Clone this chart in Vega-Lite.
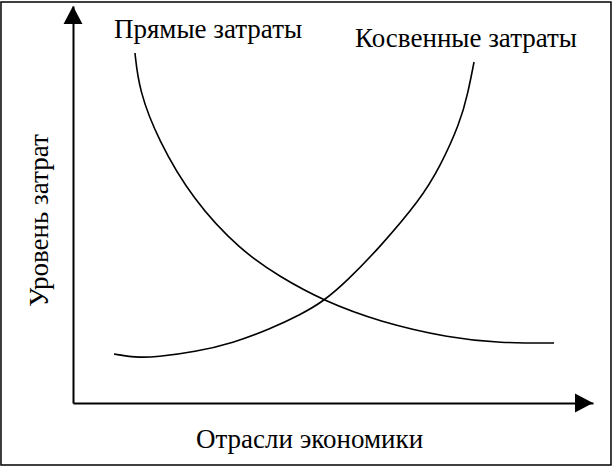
{
  "$schema": "https://vega.github.io/schema/vega-lite/v6.json",
  "width": 520,
  "height": 397,
  "padding": {"left": 73, "top": 6, "right": 21, "bottom": 66},
  "autosize": "none",
  "background": "white",
  "config": {
    "view": {"stroke": null},
    "font": "Liberation Serif",
    "axis": {"titleFont": "Liberation Serif", "titleFontWeight": "normal", "titleColor": "black"}
  },
  "datasets": {
    "curves": [
      {"series": "Прямые затраты", "x": 11.92, "y": 88.16},
      {"series": "Прямые затраты", "x": 12.69, "y": 78.84},
      {"series": "Прямые затраты", "x": 16.35, "y": 66.25},
      {"series": "Прямые затраты", "x": 23.08, "y": 51.13},
      {"series": "Прямые затраты", "x": 32.12, "y": 38.54},
      {"series": "Прямые затраты", "x": 39.81, "y": 31.74},
      {"series": "Прямые затраты", "x": 48.27, "y": 25.69},
      {"series": "Прямые затраты", "x": 59.04, "y": 20.4},
      {"series": "Прямые затраты", "x": 72.5, "y": 16.37},
      {"series": "Прямые затраты", "x": 82.12, "y": 15.11},
      {"series": "Прямые затраты", "x": 92.5, "y": 15.11},
      {"series": "Косвенные затраты", "x": 7.88, "y": 12.34},
      {"series": "Косвенные затраты", "x": 11.92, "y": 11.46},
      {"series": "Косвенные затраты", "x": 16.15, "y": 11.59},
      {"series": "Косвенные затраты", "x": 23.46, "y": 12.85},
      {"series": "Косвенные затраты", "x": 30.77, "y": 15.11},
      {"series": "Косвенные затраты", "x": 37.88, "y": 18.64},
      {"series": "Косвенные затраты", "x": 43.65, "y": 22.17},
      {"series": "Косвенные затраты", "x": 48.27, "y": 25.69},
      {"series": "Косвенные затраты", "x": 52.69, "y": 30.73},
      {"series": "Косвенные затраты", "x": 59.04, "y": 39.29},
      {"series": "Косвенные затраты", "x": 66.73, "y": 51.13},
      {"series": "Косвенные затраты", "x": 70.58, "y": 59.45},
      {"series": "Косвенные затраты", "x": 74.42, "y": 70.53},
      {"series": "Косвенные затраты", "x": 75.96, "y": 78.09},
      {"series": "Косвенные затраты", "x": 77.12, "y": 85.89}
    ],
    "labels": [
      {"label": "Прямые затраты", "x": 25.96, "y": 91.94},
      {"label": "Косвенные затраты", "x": 75.58, "y": 89.67}
    ],
    "arrows": [
      {"axis": "x", "x": 100, "y": 0},
      {"axis": "y", "x": 0, "y": 100}
    ],
    "frame": [
      {"x": -13.85, "x2": 103.46, "y": -15.62, "y2": 101.0}
    ]
  },
  "layer": [
    {
      "data": {"name": "curves"},
      "mark": {"type": "line", "interpolate": "basis", "color": "black", "strokeWidth": 1.6},
      "encoding": {
        "x": {
          "field": "x", "type": "quantitative",
          "scale": {"domain": [0, 100], "nice": false, "zero": false},
          "axis": {
            "title": "Отрасли экономики", "titleFontSize": 27,
            "domain": true, "domainColor": "black", "domainWidth": 2,
            "ticks": false, "labels": false, "grid": false,
            "titleX": 236, "titleY": 44, "titleAlign": "center", "titleBaseline": "alphabetic"
          }
        },
        "y": {
          "field": "y", "type": "quantitative",
          "scale": {"domain": [0, 100], "nice": false, "zero": false},
          "axis": {
            "title": "Уровень затрат", "titleFontSize": 27,
            "domain": true, "domainColor": "black", "domainWidth": 2,
            "ticks": false, "labels": false, "grid": false,
            "titleX": -26, "titleY": 214, "titleAngle": 270, "titleAlign": "center", "titleBaseline": "alphabetic"
          }
        },
        "detail": {"field": "series"}
      }
    },
    {
      "data": {"name": "labels"},
      "mark": {"type": "text", "font": "Liberation Serif", "fontSize": 27, "color": "black", "align": "center", "baseline": "alphabetic"},
      "encoding": {
        "x": {"field": "x", "type": "quantitative"},
        "y": {"field": "y", "type": "quantitative"},
        "text": {"field": "label"}
      }
    },
    {
      "data": {"name": "arrows"},
      "transform": [{"filter": "datum.axis === 'x'"}],
      "mark": {"type": "point", "filled": true, "color": "black", "opacity": 1, "strokeWidth": 0, "size": 324, "shape": "M 0 0 L -2 -1.05 L -2 1.05 Z"},
      "encoding": {
        "x": {"field": "x", "type": "quantitative"},
        "y": {"field": "y", "type": "quantitative"}
      }
    },
    {
      "data": {"name": "arrows"},
      "transform": [{"filter": "datum.axis === 'y'"}],
      "mark": {"type": "point", "filled": true, "color": "black", "opacity": 1, "strokeWidth": 0, "size": 324, "shape": "M 0 0 L -1.05 2 L 1.05 2 Z"},
      "encoding": {
        "x": {"field": "x", "type": "quantitative"},
        "y": {"field": "y", "type": "quantitative"}
      }
    },
    {
      "data": {"name": "frame"},
      "mark": {"type": "rect", "filled": false, "stroke": "black", "strokeWidth": 1.5},
      "encoding": {
        "x": {"field": "x", "type": "quantitative"},
        "x2": {"field": "x2"},
        "y": {"field": "y", "type": "quantitative"},
        "y2": {"field": "y2"}
      }
    }
  ]
}
